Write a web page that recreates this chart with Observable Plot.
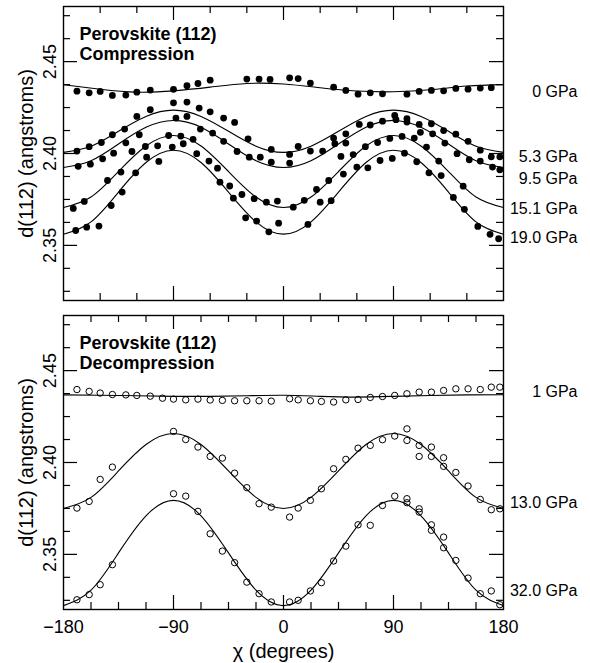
<!DOCTYPE html>
<html>
<head>
<meta charset="utf-8">
<script src="https://cdn.jsdelivr.net/npm/d3@7"></script>
<script src="https://cdn.jsdelivr.net/npm/@observablehq/plot@0.6"></script>
<style>
  body { margin: 0; background: #fff; }
  #chart svg { display: block; }
</style>
</head>
<body>
<div id="chart"></div>
<script>
// ---------- Compression (top panel) measured points ----------
const chi_0 = [-169,-159,-150,-140,-129,-120,-109,-90,-79,-70,-60,-30,-20,-11,5,12,22,41,51,61,71,81,101,111,121,131,141,151,161,170];
const d_0 = [2.4339,2.4330,2.4338,2.4316,2.4318,2.4334,2.4345,2.4349,2.4369,2.4381,2.4399,2.4405,2.4405,2.4403,2.4412,2.4408,2.4383,2.4361,2.4343,2.4323,2.4330,2.4325,2.4323,2.4338,2.4343,2.4341,2.4354,2.4350,2.4356,2.4358];
const chi_53 = [-169,-159,-149,-140,-130,-120,-109,-90,-79,-69,-60,-49,-40,-29,-10,5,12,22,41,51,91,101,111,121,131,141,151,161,170,177];
const d_53 = [2.4013,2.4037,2.4060,2.4102,2.4133,2.4202,2.4238,2.4276,2.4280,2.4247,2.4227,2.4193,2.4169,2.4080,2.4022,2.3995,2.4038,2.4013,2.4084,2.4107,2.4207,2.4189,2.4158,2.4162,2.4125,2.4105,2.4066,2.4018,2.3982,2.3982];
const chi_95 = [-168,-158,-148,-139,-129,-118,-88,-79,-68,-58,-49,-38,-28,-19,-10,5,32,42,51,62,71,81,92,101,112,122,132,142,152,161,171,177];
const d_95 = [2.3930,2.3942,2.3971,2.4002,2.4058,2.4102,2.4193,2.4202,2.4133,2.4111,2.4066,2.4011,2.3980,2.3980,2.3953,2.3948,2.4013,2.4053,2.4057,2.4158,2.4155,2.4176,2.4184,2.4171,2.4115,2.4107,2.4057,2.3999,2.3966,2.3959,2.3926,2.3911];
const chi_151 = [-172,-163,-144,-133,-124,-113,-103,-94,-84,-74,-61,-54,-44,-34,-24,-14,-5,8,17,27,37,47,57,67,77,87,97,107,117,127,147];
const d_151 = [2.3701,2.3739,2.3853,2.3899,2.4011,2.4038,2.4042,2.4098,2.4095,2.4077,2.3959,2.3920,2.3823,2.3777,2.3754,2.3735,2.3741,2.3708,2.3745,2.3804,2.3853,2.3984,2.3994,2.4037,2.4060,2.4082,2.4093,2.4084,2.4035,2.3959,2.3822];
const chi_190 = [-170,-161,-151,-141,-132,-121,-112,-102,-91,-82,-71,-52,-41,-31,-22,-12,-4,20,30,39,49,60,69,79,89,99,109,119,129,139,148,159,169,176];
const d_190 = [2.3581,2.3599,2.3605,2.3717,2.3790,2.3895,2.3980,2.3957,2.4035,2.4053,2.3999,2.3844,2.3757,2.3650,2.3632,2.3574,2.3621,2.3614,2.3735,2.3743,2.3888,2.3926,2.3922,2.3962,2.3973,2.4002,2.3955,2.3895,2.3880,2.3761,2.3696,2.3603,2.3560,2.3536];

// ---------- Decompression (bottom panel) measured points ----------
const chi_1 = [-169,-159,-150,-140,-129,-120,-109,-99,-90,-80,-70,-60,-50,-40,-30,-20,-10,5,12,22,31,41,51,61,71,81,91,101,111,121,131,141,151,161,170,177];
const d_1 = [2.4397,2.4387,2.4378,2.4370,2.4368,2.4365,2.4361,2.4350,2.4345,2.4341,2.4345,2.4340,2.4338,2.4336,2.4336,2.4336,2.4334,2.4347,2.4341,2.4336,2.4332,2.4329,2.4341,2.4343,2.4354,2.4359,2.4365,2.4374,2.4383,2.4383,2.4392,2.4401,2.4401,2.4397,2.4410,2.4410];
const chi_130 = [-169,-159,-150,-140,-90,-80,-70,-60,-50,-40,-30,-20,-10,5,12,22,31,41,51,61,71,81,91,101,101,111,111,121,121,131,131,141,151,161,170,177];
const d_130 = [2.3752,2.3788,2.3908,2.3975,2.4169,2.4125,2.4084,2.4033,2.4024,2.3942,2.3863,2.3776,2.3757,2.3703,2.3752,2.3794,2.3857,2.3966,2.4017,2.4078,2.4093,2.4124,2.4144,2.4183,2.4120,2.4093,2.4033,2.4084,2.4033,2.4026,2.3979,2.3946,2.3872,2.3799,2.3743,2.3748];
const chi_320 = [-169,-159,-150,-140,-90,-80,-70,-60,-50,-40,-30,-20,-10,5,12,22,31,41,51,61,71,81,91,101,101,111,111,121,121,131,131,141,151,161,170,177];
const d_320 = [2.3253,2.3281,2.3335,2.3444,2.3830,2.3817,2.3734,2.3612,2.3518,2.3455,2.3349,2.3286,2.3241,2.3241,2.3250,2.3301,2.3346,2.3464,2.3545,2.3661,2.3658,2.3766,2.3817,2.3803,2.3781,2.3748,2.3730,2.3661,2.3631,2.3594,2.3536,2.3467,2.3371,2.3286,2.3301,2.3226];

// ---------- fitted curves ----------
const fitChi = [-180,-157.5,-135,-112.5,-90,-67.5,-45,-22.5,0,22.5,45,67.5,90,112.5,135,157.5,180];
const fit_53  = [2.4006,2.4040,2.4121,2.4202,2.4236,2.4202,2.4121,2.4040,2.4006,2.4040,2.4121,2.4202,2.4236,2.4202,2.4121,2.4040,2.4006];
const fit_95  = [2.3924,2.3961,2.4052,2.4143,2.4180,2.4143,2.4052,2.3961,2.3924,2.3961,2.4052,2.4143,2.4180,2.4143,2.4052,2.3961,2.3924];
const fit_151 = [2.3706,2.3763,2.3902,2.4041,2.4098,2.4041,2.3902,2.3763,2.3706,2.3763,2.3902,2.4041,2.4098,2.4041,2.3902,2.3763,2.3706];
const fit_190 = [2.3561,2.3628,2.3790,2.3951,2.4018,2.3951,2.3790,2.3628,2.3561,2.3628,2.3790,2.3951,2.4018,2.3951,2.3790,2.3628,2.3561];
const fit_130 = [2.3750,2.3810,2.3954,2.4098,2.4158,2.4098,2.3954,2.3810,2.3750,2.3810,2.3954,2.4098,2.4158,2.4098,2.3954,2.3810,2.3750];
const fit_320 = [2.3221,2.3305,2.3508,2.3710,2.3794,2.3710,2.3508,2.3305,2.3221,2.3305,2.3508,2.3710,2.3794,2.3710,2.3508,2.3305,2.3221];
const fitChi30 = [-180,-150,-120,-90,-60,-30,0,30,60,90,120,150,180];
const fit_0 = [2.4374,2.4350,2.4334,2.4341,2.4361,2.4381,2.4378,2.4358,2.4340,2.4336,2.4347,2.4367,2.4375];
const fit_1 = [2.4368,2.4366,2.4363,2.4360,2.4360,2.4363,2.4366,2.4360,2.4356,2.4360,2.4365,2.4368,2.4369];

// ---------- labels and ticks ----------
const topNames = ["0 GPa","5.3 GPa","9.5 GPa","15.1 GPa","19.0 GPa"];
const topLabelY = [2.4334,2.3980,2.3864,2.3701,2.3543];
const bottomNames = ["1 GPa","13.0 GPa","32.0 GPa"];
const bottomLabelY = [2.4383,2.3779,2.3304];
const yMajor = [2.35,2.40,2.45];
const yTickLabels = ["2.35","2.40","2.45"];
const yMinor = [2.325,2.3375,2.3625,2.375,2.3875,2.4125,2.425,2.4375,2.4625,2.475];
const xMajorTop = [-90,0,90];
const xMinorTop = [-150,-120,-60,-30,30,60,120,150];
const xMajorBottom = [-90,0,90];
const xMinorBottom = [-157.5,-135,-112.5,-67.5,-45,-22.5,22.5,45,67.5,112.5,135,157.5];
const xTickValues = [-180,-90,0,90,180];
const xTickLabels = ["\u2212180","\u221290","0","90","180"];

function rows(list) {
  return list.flatMap(([name, xs, ys]) => xs.map((x, i) => ({series: name, chi: x, d: ys[i]})));
}

const topPoints = rows([["0 GPa",chi_0,d_0],["5.3 GPa",chi_53,d_53],["9.5 GPa",chi_95,d_95],["15.1 GPa",chi_151,d_151],["19.0 GPa",chi_190,d_190]]);
const topFits = rows([["0 GPa",fitChi30,fit_0],["5.3 GPa",fitChi,fit_53],["9.5 GPa",fitChi,fit_95],["15.1 GPa",fitChi,fit_151],["19.0 GPa",fitChi,fit_190]]);
const botPoints = rows([["1 GPa",chi_1,d_1],["13.0 GPa",chi_130,d_130],["32.0 GPa",chi_320,d_320]]);
const botFits = rows([["1 GPa",fitChi30,fit_1],["13.0 GPa",fitChi,fit_130],["32.0 GPa",fitChi,fit_320]]);

const FONT = "'Liberation Sans', Arial, Helvetica, sans-serif";

function panel(o) {
  const W = 590, ML = 63, MR = 87;
  const PW = W - ML - MR;
  const PH = o.height - o.marginTop - o.marginBottom;
  const minL = 7, majL = 14, sw = 1.2;
  const marks = [
    Plot.line(o.fits, {x: "chi", y: "d", z: "series", curve: "natural", stroke: "black", strokeWidth: 1.1}),
    o.open
      ? Plot.dot(o.points, {x: "chi", y: "d", r: 3.2, stroke: "black", strokeWidth: 1, fill: "none"})
      : Plot.dot(o.points, {x: "chi", y: "d", r: 3.4, fill: "black"}),
    Plot.tickX(o.xMinor, {x: d => d, insetTop: PH - minL, stroke: "black", strokeWidth: sw}),
    Plot.tickX(o.xMinor, {x: d => d, insetBottom: PH - minL, stroke: "black", strokeWidth: sw}),
    Plot.tickX(o.xMajor, {x: d => d, insetTop: PH - majL, stroke: "black", strokeWidth: sw}),
    Plot.tickX(o.xMajor, {x: d => d, insetBottom: PH - majL, stroke: "black", strokeWidth: sw}),
    Plot.tickY(yMinor, {y: d => d, insetRight: PW - minL, stroke: "black", strokeWidth: sw}),
    Plot.tickY(yMinor, {y: d => d, insetLeft: PW - minL, stroke: "black", strokeWidth: sw}),
    Plot.tickY(yMajor, {y: d => d, insetRight: PW - majL, stroke: "black", strokeWidth: sw}),
    Plot.tickY(yMajor, {y: d => d, insetLeft: PW - majL, stroke: "black", strokeWidth: sw}),
    Plot.frame({stroke: "black", strokeWidth: 1.4}),
    Plot.text(yMajor, {y: d => d, text: (d, i) => yTickLabels[i], frameAnchor: "left", textAnchor: "middle", lineAnchor: "middle", dx: -13, rotate: -90, fontSize: 18, fill: "black"}),
    Plot.text(["d(112) (angstroms)"], {text: d => d, frameAnchor: "left", textAnchor: "middle", lineAnchor: "middle", dx: -37, rotate: -90, fontSize: 20, fill: "black"}),
    Plot.text([o.title], {text: d => d, frameAnchor: "top-left", dx: 16, dy: 19, lineAnchor: "top", textAnchor: "start", fontWeight: "bold", fontSize: 18, lineHeight: 1.11, fill: "black"}),
    Plot.text(o.names, {y: (d, i) => o.labelY[i], text: d => d, frameAnchor: "right", dx: 74, textAnchor: "end", fontSize: 16, fill: "black"})
  ];
  if (o.xLabels) {
    marks.push(Plot.text(xTickValues, {x: d => d, text: (d, i) => xTickLabels[i], frameAnchor: "bottom", textAnchor: "middle", lineAnchor: "top", dy: 11, fontSize: 18, fill: "black"}));
    marks.push(Plot.text(["\u03c7 (degrees)"], {text: d => d, frameAnchor: "bottom", textAnchor: "middle", lineAnchor: "top", dy: 34, fontSize: 20, fill: "black"}));
  }
  return Plot.plot({
    width: W, height: o.height,
    marginLeft: ML, marginRight: MR, marginTop: o.marginTop, marginBottom: o.marginBottom,
    x: {domain: [-180, 180], axis: null},
    y: {domain: [2.32, 2.48], axis: null},
    style: {fontFamily: FONT, background: "white", color: "black", overflow: "visible"},
    marks
  });
}

const topPanel = panel({points: topPoints, fits: topFits, names: topNames, labelY: topLabelY,
  title: "Perovskite (112)\nCompression", open: false, xMinor: xMinorTop, xMajor: xMajorTop,
  height: 310, marginTop: 6, marginBottom: 10, xLabels: false});
const bottomPanel = panel({points: botPoints, fits: botFits, names: bottomNames, labelY: bottomLabelY,
  title: "Perovskite (112)\nDecompression", open: true, xMinor: xMinorBottom, xMajor: xMajorBottom,
  height: 353, marginTop: 5, marginBottom: 54, xLabels: true});

const chartEl = document.getElementById("chart");
chartEl.appendChild(topPanel);
chartEl.appendChild(bottomPanel);
</script>
</body>
</html>
